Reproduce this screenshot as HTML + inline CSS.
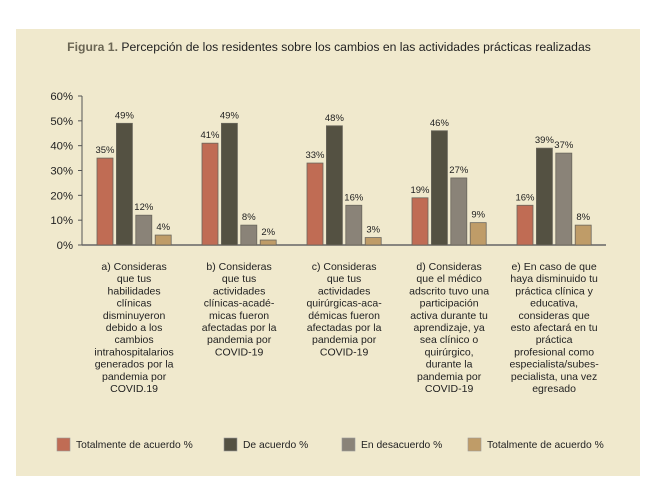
<!DOCTYPE html>
<html><head><meta charset="utf-8"><style>
body{margin:0;background:#fff;width:653px;height:486px;overflow:hidden}
svg{display:block;font-family:"Liberation Sans",sans-serif}
</style></head><body>
<svg width="653" height="486">
<rect x="16" y="29" width="624" height="447" fill="#f0e9cd"/>
<text x="329" y="51" font-size="12.2" text-anchor="middle" fill="#222"><tspan font-weight="bold" fill="#6b6654">Figura 1.</tspan> Percepción de los residentes sobre los cambios en las actividades prácticas realizadas</text>
<g id="axis"></g>
<g id="bars"></g>
<g id="cats"></g>
<g id="legend"></g>
</svg>
<script>
const categories=[
["a) Consideras","que tus","habilidades","clínicas","disminuyeron","debido a los","cambios","intrahospitalarios","generados por la","pandemia por","COVID.19"],
["b) Consideras","que tus","actividades","clínicas-acadé-","micas fueron","afectadas por la","pandemia por","COVID-19"],
["c) Consideras","que tus","actividades","quirúrgicas-aca-","démicas fueron","afectadas por la","pandemia por","COVID-19"],
["d) Consideras","que el médico","adscrito tuvo una","participación","activa durante tu","aprendizaje, ya","sea clínico o","quirúrgico,","durante la","pandemia por","COVID-19"],
["e) En caso de que","haya disminuido tu","práctica clínica y","educativa,","consideras que","esto afectará en tu","práctica","profesional como","especialista/subes-","pecialista, una vez","egresado"]];
const seriesNames=["Totalmente de acuerdo %","De acuerdo %","En desacuerdo %","Totalmente de acuerdo %"];
const totalAcuerdo=[35,41,33,19,16];
const deAcuerdo=[49,49,48,46,39];
const enDesacuerdo=[12,8,16,27,37];
const totalAcuerdo2=[4,2,3,9,8];
const yTicks=[0,10,20,30,40,50,60];
const series=[totalAcuerdo,deAcuerdo,enDesacuerdo,totalAcuerdo2];
const colors=["#c06c54","#545142","#8a8378","#bf9c68"];
const NS="http://www.w3.org/2000/svg";
function mk(t,a,p){const e=document.createElementNS(NS,t);for(const k in a)e.setAttribute(k,a[k]);p.appendChild(e);return e;}
const y0=245,yTop=96;
const y=v=>y0-(v/60)*(y0-yTop);
const x=(g,s)=>97+g*105+s*19.4;
const axis=document.getElementById('axis');
mk('line',{x1:82,y1:yTop,x2:82,y2:y0,stroke:'#555','stroke-width':1},axis);
mk('line',{x1:82,y1:y0,x2:606,y2:y0,stroke:'#666','stroke-width':1.5},axis);
yTicks.forEach(t=>{
 const l=mk('line',{x1:78,y1:y(t),x2:82,y2:y(t),stroke:'#555'},axis);
 
 
 const tx=mk('text',{x:73,y:y(t)+4,'font-size':11.3,'text-anchor':'end',fill:'#222'},axis);
 tx.textContent=t+'%';
 
 
});
const bars=document.getElementById('bars');
series.forEach((arr,s)=>arr.forEach((v,g)=>{
 const r=mk('rect',{x:x(g,s),y:y(v),width:16,height:y0-y(v),fill:colors[s],stroke:'#6a665c','stroke-width':0.8},bars);
 
 
 const t=mk('text',{x:x(g,s)+8,y:y(v)-5,'font-size':9.5,'text-anchor':'middle',fill:'#222'},bars);
 t.textContent=v+'%';
 
 
}));
const cats=document.getElementById('cats');
categories.forEach((lines,g)=>{
 const cx=x(g,1.5)+8;
 lines.forEach((ln,i)=>{
  const t=mk('text',{x:cx,y:270+i*12.2,'font-size':10.5,'text-anchor':'middle',fill:'#222'},cats);
  t.textContent=ln;
  
  
 });
});
const legend=document.getElementById('legend');
const lx=[57,224,342,468];
seriesNames.forEach((n,i)=>{
 const r=mk('rect',{x:lx[i],y:438,width:13,height:13,fill:colors[i],stroke:'#999','stroke-width':0.6},legend);
 
 
 const t=mk('text',{x:lx[i]+19,y:448,'font-size':10.3,fill:'#222'},legend);
 t.textContent=n;
 
 
});
</script>
</body></html>
